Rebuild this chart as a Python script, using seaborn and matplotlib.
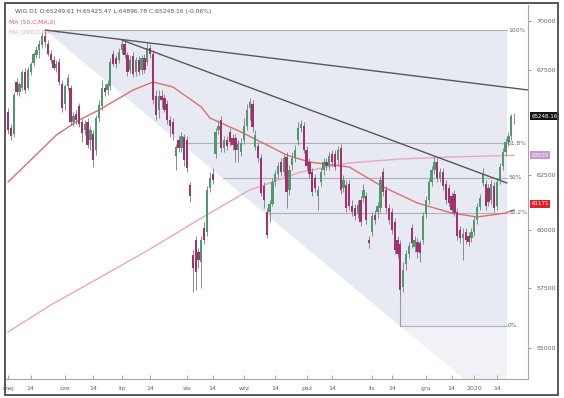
import matplotlib
matplotlib.use("Agg")
import matplotlib.pyplot as plt
import matplotlib.transforms as mtransforms
import numpy as np
import pandas as pd
import seaborn as sns
from matplotlib.patches import Polygon, Rectangle
from matplotlib.ticker import FixedLocator, FixedFormatter, NullLocator

# ---------------- data (WIG, daily candles) ----------------
opens = [65456, 64689, 64403, 66921, 66429, 66625, 67416, 66625, 67416, 67865,
         68267, 68519, 68773, 69230, 68823, 68317, 68015, 67615, 67915, 66822,
         65843, 66724, 66625, 64975, 65360, 65746, 64975, 64593, 64975, 64118,
         64403, 63647, 65167, 65746, 66625, 66527, 66724, 68317, 68116, 68015,
         68519, 68823, 68267, 67515, 68217, 67416, 68015, 67515, 68116, 67915,
         68620, 68317, 66233, 65552, 66233, 66135, 65843, 65071, 64975, 63366,
         64118, 63741, 64261, 64118, 62026, 58905, 59560, 59035, 58602, 60090,
         59913, 61888, 62531, 63460, 64593, 65071, 63741, 64118, 64498, 64213,
         64213, 63647, 63553, 64118, 64784, 65649, 65843, 63788, 63835, 63273,
         61980, 60803, 60803, 61163, 62163, 62531, 63086, 62623, 63320, 61797,
         62947, 63273, 64118, 64689, 64784, 63647, 63086, 62623, 62346, 61525,
         62163, 62715, 63086, 62900, 63460, 63460, 63179, 63741, 61888, 62026,
         62071, 61072, 60982, 60713, 61343, 61434, 61525, 59560, 59913, 60669,
         60803, 60982, 62623, 61797, 60982, 60803, 60356, 59560, 59385, 57531,
         58516, 58948, 60090, 59254, 59473, 59429, 59560, 60713, 61343, 62163,
         62715, 63086, 62346, 62623, 62071, 61888, 61525, 61615, 60803, 60001,
         59648, 59913, 59736, 59648, 59913, 60445, 61027, 62117, 62071, 61888,
         61343, 61980, 61072, 62254, 62900, 63553, 64024, 64308, 65249.61]
closes = [64593, 64308, 66282, 66429, 66822, 67416, 66527, 67515, 67815, 68317,
          68519, 68823, 69230, 68924, 68317, 68015, 67615, 67815, 66921, 65649,
          66724, 67118, 64975, 65263, 65071, 64880, 64451, 64880, 63883, 64593,
          63179, 65167, 65795, 66625, 66429, 66822, 67915, 67815, 67815, 68418,
          68823, 68267, 67416, 68015, 67317, 68015, 67416, 68116, 67515, 68620,
          68317, 66037, 65311, 66233, 66037, 65552, 65071, 64784, 64403, 63788,
          63741, 64308, 63179, 62808, 61525, 58343, 58171, 58688, 59560, 59560,
          61797, 62346, 62254, 64498, 64784, 63741, 64118, 63835, 64024, 63883,
          63647, 63930, 63977, 64784, 65552, 65940, 64736, 64356, 63273, 61661,
          61343, 59780, 61163, 62163, 62531, 62900, 62623, 63273, 61706, 62715,
          63273, 63647, 64689, 64880, 63647, 62900, 62531, 61706, 61888, 61797,
          62623, 63086, 62900, 63366, 63086, 62854, 63647, 61797, 62254, 60982,
          61072, 60803, 60624, 61118, 60356, 61797, 60445, 59429, 60624, 60445,
          61072, 62254, 61706, 60982, 60445, 60001, 59122, 58948, 57404, 58257,
          58948, 59297, 59429, 59560, 59035, 58992, 60624, 61343, 62163, 62715,
          63086, 62346, 62623, 61980, 61343, 61208, 60892, 60758, 59736, 59648,
          59825, 59560, 59473, 59913, 60445, 61027, 61434, 62531, 61072, 61253,
          62071, 60982, 62163, 62854, 63553, 64024, 64308, 65250, 65248.16]
highs = [65649, 64880, 66429, 67118, 66921, 67515, 67615, 67665, 67915, 68418,
         68722, 69026, 69434, 69537, 69026, 68519, 68217, 68015, 68116, 67019,
         66822, 67317, 66773, 65456, 65552, 65892, 65167, 65071, 65167, 64784,
         64593, 65311, 66037, 67019, 66822, 67019, 68116, 68519, 68267, 68620,
         69026, 68975, 68418, 68217, 68418, 68166, 68217, 68267, 68317, 68924,
         68823, 68519, 66527, 66527, 66527, 66331, 66037, 65263, 65167, 63930,
         64308, 64498, 64403, 64308, 62163, 59122, 59736, 59210, 59736, 60356,
         61980, 62623, 62808, 64689, 65071, 65263, 64308, 64308, 64689, 64403,
         64403, 64118, 64213, 65167, 65843, 66135, 66037, 64593, 64024, 63460,
         62163, 60982, 61343, 62346, 62715, 63086, 63273, 63460, 63553, 62947,
         63553, 63883, 64975, 65071, 64975, 63835, 63273, 62808, 62531, 61980,
         62808, 63273, 63273, 63553, 63647, 63647, 63835, 63930, 62485, 62254,
         62254, 61343, 61163, 61343, 61525, 62071, 61706, 59736, 60803, 60892,
         61253, 62438, 62808, 61980, 61163, 60982, 60534, 59736, 59560, 58602,
         59122, 59473, 60268, 59736, 59648, 59560, 60803, 61525, 62346, 62900,
         63366, 63273, 62808, 62808, 62254, 62071, 61706, 61797, 60982, 60179,
         60090, 60090, 59913, 60090, 60624, 61208, 61615, 62808, 62254, 62071,
         62254, 62163, 62346, 63040, 63741, 64213, 64498, 65360, 65425.47]
lows = [64403, 64118, 64261, 66282, 66233, 66527, 66380, 66527, 67267, 67715,
        68116, 68116, 68620, 68671, 68217, 67865, 67515, 67416, 66773, 65456,
        65552, 66527, 64832, 64784, 64880, 64736, 64024, 64356, 63741, 63647,
        62854, 63413, 64975, 65552, 66233, 66282, 66527, 67715, 67615, 67865,
        68317, 68116, 67217, 67366, 67168, 67217, 67267, 67317, 67366, 67765,
        68116, 65843, 65071, 65167, 65649, 65456, 64880, 64261, 64118, 62715,
        63553, 63553, 62900, 62623, 61253, 57320, 57404, 58343, 57489, 59385,
        59736, 61706, 62071, 63273, 64403, 63553, 63553, 63647, 63835, 63647,
        63086, 63086, 63366, 63930, 64593, 65071, 64498, 63647, 63086, 61525,
        60982, 59648, 60356, 61072, 61980, 62346, 62438, 62438, 60982, 61570,
        62715, 63086, 63883, 64498, 63507, 62715, 62346, 61525, 61706, 60892,
        61980, 62485, 62715, 62715, 62900, 62715, 62993, 61615, 61706, 60803,
        60892, 60624, 60445, 60534, 60179, 61253, 60268, 59210, 59736, 60268,
        60534, 60803, 61525, 60803, 60268, 59825, 58948, 58775, 57109, 57320,
        58257, 58775, 59210, 59035, 58775, 58602, 59385, 60534, 61163, 61980,
        62531, 62163, 62163, 61797, 61163, 61072, 60713, 60624, 59560, 59429,
        58688, 59385, 59297, 59473, 59736, 60268, 60892, 61980, 60892, 61072,
        61163, 60803, 60892, 62071, 62715, 63366, 63835, 64118, 64896.78]

# moving averages (session index, value)
ma50_idx = [0, 8, 17, 25, 32, 44, 51, 58, 68, 71, 82, 89, 98, 106, 120, 132, 144, 156, 165, 175, 178]
ma50_val = [62163, 63179, 64356, 65071, 65552, 66527, 66921, 66675, 65698, 65167, 64498,
            64024, 63413, 63086, 62854, 61934, 61208, 60758, 60579, 60758, 60900]
ma200_idx = [0, 15, 32, 50, 68, 85, 103, 120, 138, 156, 178]
ma200_val = [55653, 56772, 57914, 59166, 60534, 61797, 62623, 63040, 63226, 63320, 63400]

# x-axis labels (session index of each label)
xtick_idx = [0, 8, 20, 30, 40, 50, 63, 72, 83, 94, 105, 114, 128, 135, 147, 156, 164, 172]
xtick_lab = ["maj", "14", "cze", "14", "lip", "14", "sie", "14", "wrz", "14",
             "paź", "14", "lis", "14", "gru", "14", "2020", "14"]
ytick_vals = [55000, 57500, 60000, 62500, 67500, 70000]

# drawing objects (user-drawn on the chart)
fib_hi_idx, fib_hi = 13, 69537
fib_lo_idx, fib_lo = 138, 55900
fib_end_idx = 175.5
fib_levels = [1.0, 0.618, 0.5, 0.382, 0.0]
fib_names = ["100%", "61.8%", "50%", "38.2%", "0%"]
trend1_idx, trend1_val = [13, 183], [69537, 66527]
trend2_idx, trend2_val = [40, 175.5], [69026, 62117]

last_close = 65248.16
ma50_tag = 61171
ma200_tag_text = "63035"
header = "WIG D1 O:65249.61 H:65425.47 L:64896.78 C:65248.16 (-0.06%)"

# ---------------- plotting ----------------
sns.set_theme(style="white")
plt.rcParams['font.family'] = ['DejaVu Sans']

W, H = 564, 398
fig = plt.figure(figsize=(W / 100, H / 100), dpi=100)
fig.patch.set_facecolor("white")
ax = fig.add_axes([5 / W, 1 - 379 / H, (528 - 5) / W, (379 - 5) / H])
ax.set_yscale("log")
ymin, ymax = 53757, 70831
ax.set_ylim(ymin, ymax)
ax.set_xlim(-1.06, 182.9)
ax.set_facecolor("white")

df = pd.DataFrame({"o": opens, "h": highs, "l": lows, "c": closes})
df["i"] = np.arange(len(df))

# Fibonacci retracement box (log space)
lhi, llo = np.log(fib_hi), np.log(fib_lo)
poly = Polygon([(fib_hi_idx, fib_hi), (fib_end_idx, fib_hi), (fib_end_idx, fib_lo),
                (fib_lo_idx, fib_lo)], closed=True, fc="#e7eaf3", ec="none", zorder=0)
ax.add_patch(poly)
frac_bot = (lhi - np.log(ymin)) / (lhi - llo)
x_bot = fib_hi_idx + frac_bot * (fib_lo_idx - fib_hi_idx)
poly2 = Polygon([(fib_lo_idx, fib_lo), (fib_end_idx, fib_lo), (fib_end_idx, ymin),
                 (x_bot, ymin)], closed=True, fc="#f0f2f8", ec="none", zorder=0)
ax.add_patch(poly2)
for f, name in zip(fib_levels, fib_names):
    lv = np.exp(llo + f * (lhi - llo))
    xs = fib_hi_idx + (1 - f) * (fib_lo_idx - fib_hi_idx)
    ax.plot([xs, fib_end_idx], [lv, lv], color="#aeb1b8", lw=0.8, zorder=1)
    ax.text(fib_end_idx + 0.4, lv, name, fontsize=4.3, color="#666666",
            va="center", ha="left", zorder=5)
lo_i = int(np.argmin(lows))
ax.plot([lo_i, lo_i], [lows[lo_i], fib_lo], color="#9a9ca3", lw=0.8, zorder=1)

# moving averages
sns.lineplot(x=ma200_idx, y=ma200_val, ax=ax, color="#eaa7c0", lw=1.0, zorder=2)
sns.lineplot(x=ma50_idx, y=ma50_val, ax=ax, color="#e06d6d", lw=1.0, zorder=2)

# candles
up = df["c"] >= df["o"]
ax.vlines(df["i"], df["l"], df["h"], color="#7a7a7a", lw=0.6, zorder=3)
body_lo = np.minimum(df["o"], df["c"])
body_h = np.maximum(np.abs(df["c"] - df["o"]), 25)
colors = np.where(up, "#4f9a6b", "#a3316d")
ax.bar(df["i"], body_h, bottom=body_lo, width=0.8, color=colors, lw=0, zorder=4)

# trend lines
ax.plot(trend1_idx, trend1_val, color="#575757", lw=1.0, zorder=5)
ax.plot(trend2_idx, trend2_val, color="#575757", lw=1.0, zorder=5)

# axes styling
ax.yaxis.tick_right()
ax.yaxis.set_major_locator(FixedLocator(ytick_vals))
ax.yaxis.set_major_formatter(FixedFormatter([str(v) for v in ytick_vals]))
ax.yaxis.set_minor_locator(NullLocator())
ax.tick_params(axis="y", which="both", right=True, left=False, length=2, width=0.6,
               colors="#8a8a8a", labelsize=4.5, labelcolor="#666666", pad=4)
ax.set_xticks(xtick_idx)
ax.set_xticklabels(xtick_lab)
ax.tick_params(axis="x", direction="in", length=3, width=0.6, colors="#9a9a9a",
               labelsize=4.5, labelcolor="#666666", pad=5, bottom=True)
for s in ["left", "top"]:
    ax.spines[s].set_visible(False)
for s in ["bottom", "right"]:
    ax.spines[s].set_color("#a5a5a5")
    ax.spines[s].set_linewidth(0.8)
ax.grid(False)

# price tags on the right axis
tr = mtransforms.blended_transform_factory(ax.transAxes, ax.transData)
def tag(val, text, fc, tc):
    ax.text(1.006, val, text, transform=tr, fontsize=4.0, color=tc, va="center",
            ha="left", clip_on=False, zorder=10,
            bbox=dict(boxstyle="square,pad=0.25", fc=fc, ec="none"))
tag(last_close, f"{last_close:.2f}", "#151515", "white")
tag(ma200_val[-1], ma200_tag_text, "#c898d6", "white")
tag(ma50_tag, str(ma50_tag), "#e2202c", "white")

# header
ax.text(0.019, 0.983, header, transform=ax.transAxes, fontsize=4.3, color="#555555",
        va="center", ha="left")
ax.text(0.007, 0.954, "MA (50,C,MA,0)", transform=ax.transAxes, fontsize=4.3,
        color="#e25a5a", va="center", ha="left")
ax.text(0.007, 0.926, "MA (200,C,MA,0)", transform=ax.transAxes, fontsize=4.3,
        color="#e9a0bb", va="center", ha="left")

# outer frame of the picture
fig.patches.append(Rectangle((5 / W, 3 / H), (558 - 5) / W, (395 - 3) / H, fill=False,
                             ec="#4a4a4a", lw=1.3, transform=fig.transFigure))

fig.savefig("out.png", dpi=100)
